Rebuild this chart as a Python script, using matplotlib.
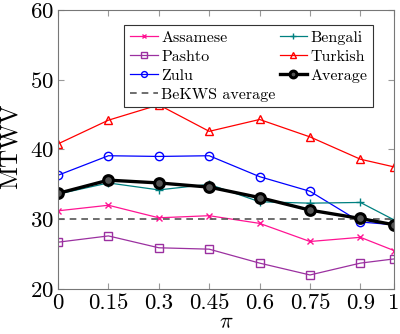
import matplotlib
matplotlib.use("Agg")
from matplotlib import pyplot as plt

plt.rcParams['font.family'] = ['cmr10', 'DejaVu Serif']
plt.rcParams['mathtext.fontset'] = 'cm'
plt.rcParams['axes.formatter.use_mathtext'] = True

pi_vals = [0, 0.15, 0.3, 0.45, 0.6, 0.75, 0.9, 1]
xtick_labels = ['0', '0.15', '0.3', '0.45', '0.6', '0.75', '0.9', '1']

assamese = [31.2, 32.0, 30.2, 30.5, 29.4, 26.8, 27.4, 25.5]
pashto = [26.7, 27.6, 25.9, 25.7, 23.7, 22.0, 23.7, 24.3]
zulu = [36.3, 39.1, 39.0, 39.1, 36.1, 34.0, 29.6, 29.2]
bengali = [33.6, 35.2, 34.2, 35.0, 32.5, 32.3, 32.4, 29.9]
turkish = [40.8, 44.2, 46.4, 42.6, 44.3, 41.8, 38.6, 37.5]
average = [33.7, 35.6, 35.2, 34.6, 33.1, 31.3, 30.1, 29.2]
bekws_avg = 30.0

fig = plt.figure(figsize=(4.0, 3.34), dpi=100)
ax = fig.add_axes([0.145, 0.135, 0.84, 0.835])

ax.plot(pi_vals, assamese, color='#ff1493', marker='x', ms=4, lw=0.9, label='Assamese')
ax.plot(pi_vals, pashto, color='#9b30a0', marker='s', ms=6, mfc='none', lw=0.9, label='Pashto')
ax.plot(pi_vals, zulu, color='#0000ff', marker='o', ms=6, mfc='none', lw=0.9, label='Zulu')
ax.axhline(bekws_avg, color='#555555', ls='--', lw=1.2, dashes=(4, 3), label='BeKWS average')
ax.plot(pi_vals, bengali, color='#008080', marker='+', ms=6, lw=0.9, label='Bengali')
ax.plot(pi_vals, turkish, color='#ff0000', marker='^', ms=6, mfc='none', lw=0.9, label='Turkish')
ax.plot(pi_vals, average, color='black', marker='o', ms=7, mfc='#555555', mew=2.2, lw=2.4, label='Average')

ax.set_xlim(0, 1)
ax.set_ylim(20, 60)
ax.set_xticks(pi_vals)
ax.set_xticklabels(xtick_labels)
ax.set_yticks([20, 30, 40, 50, 60])
ax.tick_params(direction='in', top=True, right=True, labelsize=16.5, color='#999999', length=4, pad=3)
for s in ax.spines.values():
    s.set_color('#777777')
ax.set_xlabel(r'$\pi$', fontsize=16, labelpad=0)
ax.set_ylabel('MTWV', fontsize=18, labelpad=0)
ax.yaxis.set_label_coords(-0.108, 0.51)

leg = ax.legend(ncol=2, loc='upper right', fontsize=11.5, frameon=True, fancybox=False,
                edgecolor='#333333', framealpha=1, handlelength=1.75, columnspacing=0.25,
                labelspacing=0.3, borderpad=0.35, handletextpad=0.2, markerscale=0.7,
                bbox_to_anchor=(0.962, 0.975))
leg.get_frame().set_linewidth(0.8)

fig.savefig('out.png', dpi=100)
